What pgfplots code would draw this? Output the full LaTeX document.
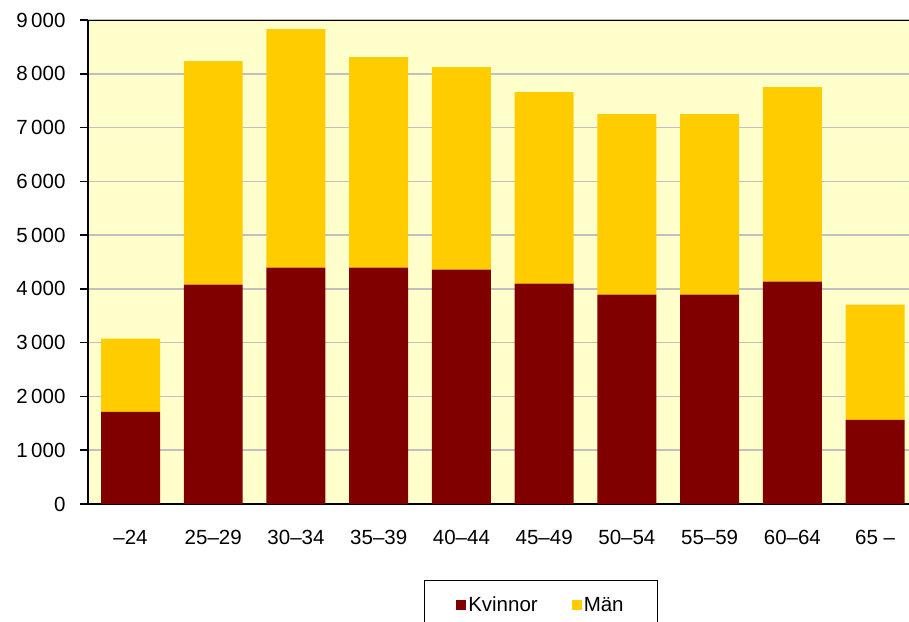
\documentclass[border=0pt]{standalone}
\usepackage{fontspec}
\setmainfont{Liberation Sans}
\usepackage{pgfplots}
\pgfplotsset{compat=1.18}

\definecolor{kvinnor}{HTML}{800000}
\definecolor{man}{HTML}{FFCC00}
\definecolor{bg}{HTML}{FFFFCC}
\definecolor{gridgray}{HTML}{C0C0C0}

\begin{document}
\begin{tikzpicture}
\begin{axis}[
    at={(0pt,0pt)}, anchor=south west,
    scale only axis,
    width=821pt, height=484pt,
    ybar stacked,
    bar width=0.713,
    xmin=-0.514, xmax=9.41,
    ymin=0, ymax=9000,
    ytick={0,1000,...,9000},
    xtick=data,
    xticklabels={–24,25–29,30–34,35–39,40–44,45–49,50–54,55–59,60–64,65 –},
    axis x line*=bottom,
    axis y line*=left,
    axis line style={black, line width=1.8pt},
    x axis line style={-},
    y axis line style={-},
    axis background/.style={fill=bg},
    ymajorgrids,
    grid style={gridgray, line width=1.6pt},
    major x tick style={draw=none},
    ytick style={black, line width=1.5pt},
    tick align=outside,
    major tick length=8pt,
    tick label style={font=\fontsize{20.5}{24}\selectfont},
    yticklabel style={xshift=-11pt},
    xticklabel style={yshift=-15pt},
    /pgf/number format/.cd, 1000 sep={\,}, assume math mode=true, /pgfplots/.cd,
    legend columns=2,
    legend style={at={(rel axis cs:0.5517,-0.157)}, anchor=north,
        draw=black, line width=1.2pt, font=\fontsize{20.5}{24}\selectfont,
        inner xsep=32pt, inner ysep=14pt,
        nodes={inner xsep=2pt},
        /tikz/every even column/.append style={column sep=32pt}},
    legend image code/.code={\fill[#1] (0pt,-5pt) rectangle (10pt,5pt);},
]
\addplot[fill=kvinnor, draw=none] coordinates {
    (0,1714) (1,4080) (2,4397) (3,4397) (4,4360) (5,4099) (6,3894) (7,3894) (8,4136) (9,1565)
};
\addlegendentry{Kvinnor}
\addplot[fill=man, draw=none] coordinates {
    (0,1360) (1,4156) (2,4435) (3,3913) (4,3764) (5,3559) (6,3354) (7,3354) (8,3615) (9,2143)
};
\addlegendentry{Män}
\draw[black, line width=1.8pt] (rel axis cs:0,1) -- (rel axis cs:1,1);
\end{axis}
\pgfresetboundingbox
\path[use as bounding box] (-88pt,-117pt) rectangle (821pt,504pt);
\end{tikzpicture}
\end{document}
